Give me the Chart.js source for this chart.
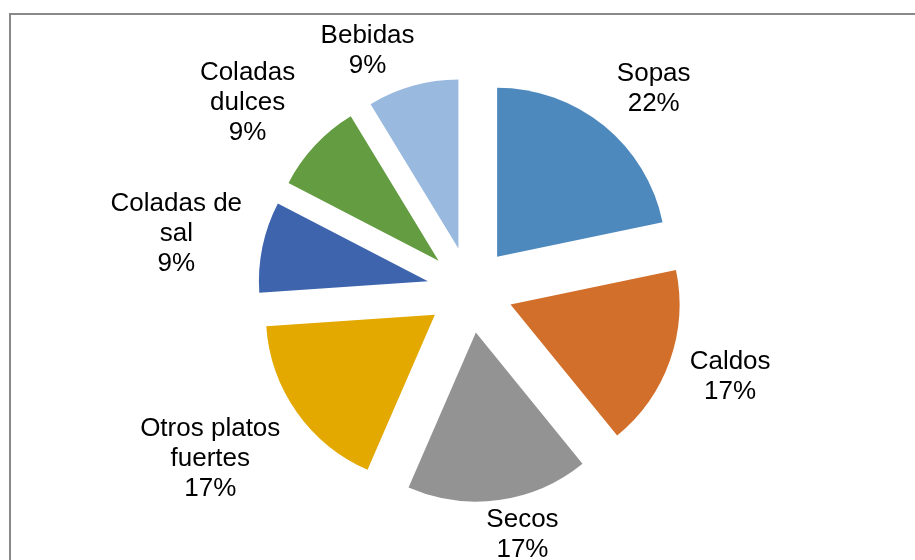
<!DOCTYPE html>
<html>
<head>
<meta charset="utf-8">
<script src="https://cdn.jsdelivr.net/npm/chart.js@4.4.1/dist/chart.umd.min.js"></script>
<style>
    html, body { margin: 0; padding: 0; background: #fff; }
    #wrap { position: relative; width: 915px; height: 560px; overflow: hidden; }
    #frame {
        position: absolute; left: 9px; top: 13px; width: 1000px; height: 1000px;
        border-top: 2px solid #898989; border-left: 2px solid #898989;
    }
    canvas { position: absolute; left: 0; top: 0; }
</style>
</head>
<body>
<div id="wrap">
    <div id="frame"></div>
    <canvas id="chart" width="915" height="560"></canvas>
</div>
<script>
// counts per group (labels show the rounded share)
const categories = ["Sopas", "Caldos", "Secos", "Otros platos fuertes", "Coladas de sal", "Coladas dulces", "Bebidas"];
const counts = [5, 4, 4, 4, 2, 2, 2];
const sliceColors = ["#4e89be", "#d26f2b", "#939393", "#e3a900", "#3d64ad", "#639c41", "#99b9df"];

// draws every slice pushed out along its middle angle
const explodePlugin = {
    id: "explode",
    beforeDatasetDraw(chart, args, opts) {
        const ctx = chart.ctx;
        args.meta.data.forEach((arc) => {
            const mid = (arc.startAngle + arc.endAngle) / 2;
            ctx.save();
            ctx.translate(Math.cos(mid) * opts.distance, Math.sin(mid) * opts.distance);
            arc.draw(ctx, chart.chartArea);
            ctx.restore();
        });
        return false;
    },
};

function wrapWords(ctx, text, maxWidth) {
    const words = text.split(" ");
    const lines = [];
    let line = "";
    words.forEach((w) => {
        const test = line ? line + " " + w : w;
        if (line && ctx.measureText(test).width > maxWidth) {
            lines.push(line);
            line = w;
        } else {
            line = test;
        }
    });
    if (line) lines.push(line);
    return lines;
}

// outside-end labels like the office chart
const labelPlugin = {
    id: "outerLabels",
    afterDatasetsDraw(chart, args, opts) {
        const ctx = chart.ctx;
        const meta = chart.getDatasetMeta(0);
        const data = chart.data.datasets[0].data;
        const total = data.reduce((a, b) => a + b, 0);
        const explode = chart.options.plugins.explode.distance;

        ctx.save();
        ctx.font = opts.font;
        ctx.fillStyle = "#000";
        ctx.textAlign = "center";
        ctx.textBaseline = "alphabetic";

        meta.data.forEach((arc, i) => {
            const mid = (arc.startAngle + arc.endAngle) / 2;
            // lean the label a little toward the horizontal axis
            const c = Math.cos(mid);
            const s = Math.sin(mid);
            const lean = Math.min(opts.leanMax, opts.leanMax * 1.1 * Math.abs(s)) * Math.PI / 180;
            const toward = c >= 0 ? 0 : Math.PI;
            let diff = Math.atan2(Math.sin(toward - mid), Math.cos(toward - mid));
            const ang = mid + Math.sign(diff) * lean;
            const dx = Math.cos(ang);
            const dy = Math.sin(ang);

            const lines = wrapWords(ctx, chart.data.labels[i], opts.maxWidth);
            lines.push(Math.round((data[i] / total) * 100) + "%");

            const w = Math.max(...lines.map((l) => ctx.measureText(l).width));
            const h = lines.length * opts.lineHeight;
            const support = Math.abs(dx) * w / 2 + Math.abs(dy) * h / 2;
            const dist = arc.outerRadius + explode + opts.gap + support;
            let x = arc.x + dx * dist;
            let y = arc.y + dy * dist;

            let atTop = false;
            if (y - h / 2 < opts.top) { y = opts.top + h / 2; atTop = true; }
            if (y + h / 2 > opts.bottom) { y = opts.bottom - h / 2; }

            if (atTop) {
                // slide sideways until the box clears its own slice
                const sx = arc.x + Math.cos(mid) * explode;
                const sy = arc.y + Math.sin(mid) * explode;
                const step = dx < 0 ? -1 : 1;
                for (let k = 0; k < 200; k++) {
                    const nx = Math.max(x - w / 2, Math.min(sx, x + w / 2));
                    const ny = Math.max(y - h / 2, Math.min(sy, y + h / 2));
                    if (Math.hypot(nx - sx, ny - sy) >= arc.outerRadius + 5) break;
                    x += step;
                }
            }

            const top = y - h / 2;
            lines.forEach((l, j) => {
                ctx.fillText(l, x, top + opts.ascent + j * opts.lineHeight);
            });
        });
        ctx.restore();
    },
};

const ctx = document.getElementById("chart").getContext("2d");

new Chart(ctx, {
    type: "pie",
    data: {
        labels: categories,
        datasets: [
            {
                data: counts,
                backgroundColor: sliceColors,
                borderWidth: 0,
            },
        ],
    },
    options: {
        responsive: false,
        animation: false,
        radius: 169,
        layout: {
            padding: { left: 25, right: 0, top: 20, bottom: 0 },
        },
        plugins: {
            legend: { display: false },
            tooltip: { enabled: false },
            explode: { distance: 43 },
            outerLabels: {
                font: "26px Arial, 'Liberation Sans', sans-serif",
                lineHeight: 30,
                ascent: 23,
                maxWidth: 150,
                gap: 14,
                leanMax: 3.7,
                top: 20,
                bottom: 564,
            },
        },
    },
    plugins: [explodePlugin, labelPlugin],
});
</script>
</body>
</html>
